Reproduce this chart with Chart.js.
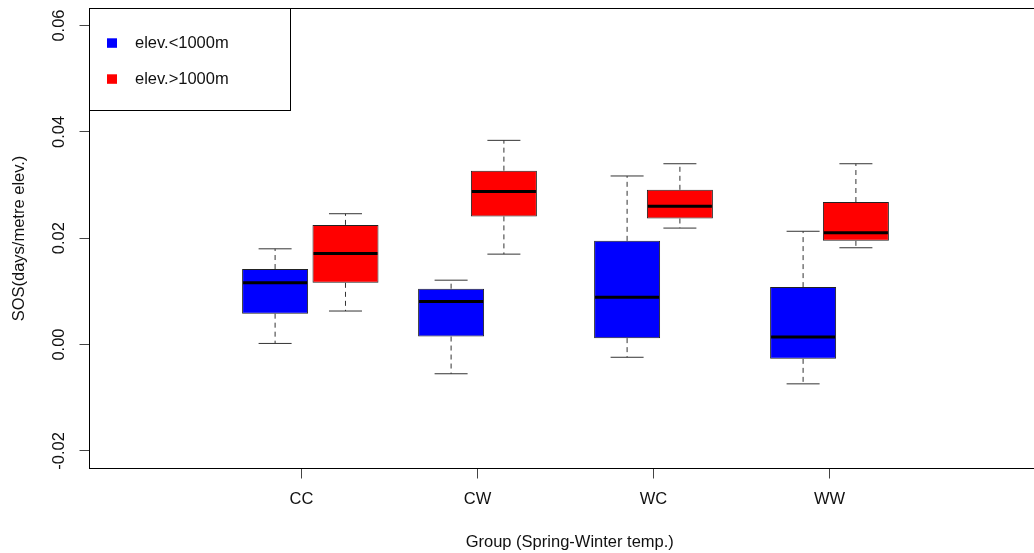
<!DOCTYPE html>
<html>
<head>
<meta charset="utf-8">
<script src="https://cdn.jsdelivr.net/npm/chart.js@4/dist/chart.umd.min.js"></script>
<style>
    html, body { margin: 0; padding: 0; background: #fff; overflow: hidden; }
    #wrap { position: relative; width: 1050px; height: 553px; }
</style>
</head>
<body>
<div id="wrap"><canvas id="chartSos"></canvas></div>
<script>
const groups = ['CC', 'CW', 'WC', 'WW'];
const seriesLabels = ['elev.<1000m', 'elev.>1000m'];
const yTicks = [-0.02, 0.00, 0.02, 0.04, 0.06];

// box positions on the group axis (R "at")
const lowAt = [0.85, 1.85, 2.85, 3.85];
const highAt = [1.25, 2.15, 3.15, 4.15];

// elev.<1000m
const lowMin = [0.0002, -0.0055, -0.0024, -0.0074];
const lowQ1 = [0.0058, 0.0015, 0.0012, -0.0027];
const lowMed = [0.0116, 0.0081, 0.0089, 0.0014];
const lowQ3 = [0.0142, 0.0105, 0.0195, 0.0108];
const lowMax = [0.0180, 0.0121, 0.0317, 0.0213];

// elev.>1000m
const highMin = [0.0063, 0.0170, 0.0219, 0.0182];
const highQ1 = [0.0116, 0.0241, 0.0237, 0.0195];
const highMed = [0.0171, 0.0288, 0.0260, 0.0210];
const highQ3 = [0.0225, 0.0327, 0.0291, 0.0268];
const highMax = [0.0246, 0.0384, 0.0340, 0.0340];

const FONT = { family: '"Liberation Sans", Arial, sans-serif', size: 16.5 };
const TEXT = '#111';

function boxData(at, q1, q3) {
    return at.map((x, i) => ({ x, y: [q1[i], q3[i]] }));
}

const boxExtras = {
    id: 'boxExtras',
    afterDatasetsDraw(chart) {
        const { ctx, scales: { y } } = chart;
        ctx.save();
        chart.data.datasets.forEach((ds, di) => {
            const meta = chart.getDatasetMeta(di);
            meta.data.forEach((bar, i) => {
                const cx = bar.x;
                const half = bar.width / 2;
                const cap = bar.width / 4;
                const pMin = y.getPixelForValue(ds.lo[i]);
                const pMax = y.getPixelForValue(ds.hi[i]);
                const pQ1 = y.getPixelForValue(ds.data[i].y[0]);
                const pQ3 = y.getPixelForValue(ds.data[i].y[1]);
                const pMed = y.getPixelForValue(ds.med[i]);

                ctx.strokeStyle = '#333';
                ctx.lineWidth = 1;
                ctx.setLineDash([5, 4]);
                ctx.beginPath();
                ctx.moveTo(cx, pQ3);
                ctx.lineTo(cx, pMax);
                ctx.moveTo(cx, pQ1);
                ctx.lineTo(cx, pMin);
                ctx.stroke();

                ctx.setLineDash([]);
                ctx.beginPath();
                ctx.moveTo(cx - cap, pMax);
                ctx.lineTo(cx + cap, pMax);
                ctx.moveTo(cx - cap, pMin);
                ctx.lineTo(cx + cap, pMin);
                ctx.stroke();

                ctx.strokeStyle = '#000';
                ctx.lineWidth = 3;
                ctx.beginPath();
                ctx.moveTo(cx - half + 1, pMed);
                ctx.lineTo(cx + half - 1, pMed);
                ctx.stroke();
            });
        });
        ctx.restore();
    },
    afterDraw(chart) {
        const { ctx, chartArea: area, scales: { y } } = chart;
        ctx.save();

        // plot frame
        ctx.strokeStyle = '#000';
        ctx.lineWidth = 1;
        ctx.strokeRect(area.left, area.top, area.right - area.left, area.bottom - area.top);

        // rotated y tick labels, as R draws them
        ctx.fillStyle = TEXT;
        ctx.font = `${FONT.size}px ${FONT.family}`;
        ctx.textAlign = 'center';
        ctx.textBaseline = 'middle';
        y.ticks.forEach((t) => {
            const py = y.getPixelForValue(t.value);
            ctx.save();
            ctx.translate(area.left - 30.2, py);
            ctx.rotate(-Math.PI / 2);
            ctx.fillText(t.value.toFixed(2), 0, 0);
            ctx.restore();
        });

        // legend box in the top-left corner
        const lx = area.left;
        const ly = area.top;
        ctx.fillStyle = '#fff';
        ctx.fillRect(lx, ly, 201, 102);
        ctx.strokeStyle = '#000';
        ctx.strokeRect(lx, ly, 201, 102);
        ctx.textAlign = 'left';
        chart.data.datasets.forEach((ds, di) => {
            const rowY = ly + 34.8 + di * 36;
            ctx.fillStyle = ds.backgroundColor;
            ctx.fillRect(lx + 17.5, rowY - 5, 10, 9.5);
            ctx.fillStyle = TEXT;
            ctx.fillText(ds.label, lx + 45.5, rowY);
        });

        ctx.restore();
    },
};

function initSosChart() {
    const canvas = document.getElementById('chartSos');

    // eslint-disable-next-line no-new
    new Chart(canvas, {
        type: 'bar',
        data: {
            datasets: [
                {
                    label: seriesLabels[0],
                    data: boxData(lowAt, lowQ1, lowQ3),
                    lo: lowMin,
                    med: lowMed,
                    hi: lowMax,
                    backgroundColor: '#0000ff',
                    borderColor: '#222',
                    borderWidth: 1,
                    borderSkipped: false,
                    grouped: false,
                    categoryPercentage: 1,
                    barPercentage: 1.25,
                },
                {
                    label: seriesLabels[1],
                    data: boxData(highAt, highQ1, highQ3),
                    lo: highMin,
                    med: highMed,
                    hi: highMax,
                    backgroundColor: '#ff0000',
                    borderColor: '#222',
                    borderWidth: 1,
                    borderSkipped: false,
                    grouped: false,
                    categoryPercentage: 1,
                    barPercentage: 1.25,
                },
            ],
        },
        options: {
            responsive: true,
            maintainAspectRatio: false,
            animation: false,
            layout: { padding: { top: 8.5, left: 0, right: 0, bottom: 0 } },
            plugins: {
                legend: { display: false },
                tooltip: { enabled: false },
            },
            scales: {
                x: {
                    type: 'linear',
                    min: -0.2045,
                    max: 5.2528,
                    offset: false,
                    afterBuildTicks: (scale) => {
                        scale.ticks = groups.map((g, i) => ({ value: i + 1 }));
                    },
                    afterFit: (scale) => { scale.height = 84.5; },
                    grid: { offset: false, drawOnChartArea: false, drawTicks: true, tickLength: 10, color: '#444' },
                    border: { display: false },
                    ticks: {
                        autoSkip: false,
                        maxRotation: 0,
                        padding: 11.1,
                        color: TEXT,
                        font: FONT,
                        callback: (value, index) => groups[index],
                    },
                    title: {
                        display: true,
                        text: 'Group (Spring-Winter temp.)',
                        color: TEXT,
                        font: FONT,
                        padding: { top: 0, bottom: 0.5 },
                    },
                },
                y: {
                    type: 'linear',
                    min: -0.02332,
                    max: 0.0632,
                    beginAtZero: false,
                    afterBuildTicks: (scale) => {
                        scale.ticks = yTicks.map((v) => ({ value: v }));
                    },
                    afterFit: (scale) => { scale.width = 89.5; },
                    grid: { drawOnChartArea: false, drawTicks: true, tickLength: 10, color: '#444' },
                    border: { display: false },
                    ticks: { display: false },
                    title: {
                        display: true,
                        text: 'SOS(days/metre elev.)',
                        color: TEXT,
                        font: FONT,
                        padding: { top: 9.6, bottom: 0 },
                    },
                },
            },
        },
        plugins: [boxExtras],
    });
}

if (document.readyState === 'loading') {
    document.addEventListener('DOMContentLoaded', initSosChart);
} else {
    initSosChart();
}
</script>
</body>
</html>
